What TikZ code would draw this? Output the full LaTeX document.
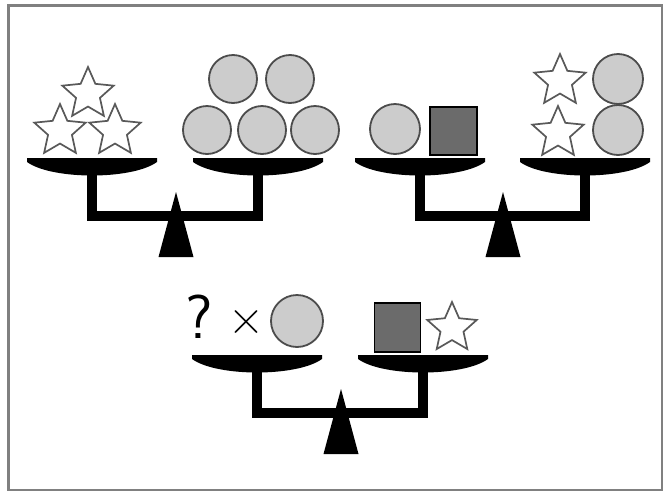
\documentclass[tikz,border=0pt]{standalone}
\usetikzlibrary{shapes.geometric}
\newcommand{\mypan}[2]{%
  \fill[black] (#1-65,#2) -- (#1+65,#2) -- (#1+65,#2+4)
    .. controls (#1+40,#2+22) and (#1-40,#2+22) .. (#1-65,#2+4) -- cycle;}
\newcommand{\mybalance}[4]{% #1 left x, #2 right x, #3 pan top y, #4 fulcrum x
  \draw[line width=10.5pt, line join=miter] (#1,#3+10) -- (#1,#3+58) -- (#2,#3+58) -- (#2,#3+10);
  \mypan{#1}{#3}\mypan{#2}{#3}
  \fill[black] (#4,#3+34) -- (#4+17.5,#3+99) -- (#4-17.5,#3+99) -- cycle;}
\begin{document}
\begin{tikzpicture}[x=1pt,y=-1pt,
  ball/.style={circle, draw=black!70, fill=black!20, line width=1.8pt, minimum size=48pt, inner sep=0pt},
  starry/.style={star, star points=5, star point ratio=2.15, draw=black!65, fill=white, line width=1.7pt, minimum size=54pt, inner sep=0pt},
  block/.style={rectangle, draw=black, fill=black!58, line width=1.4pt, minimum width=47pt, minimum height=48pt, inner sep=0pt}]
\useasboundingbox (0,0) rectangle (665,496);
\fill[white] (0,0) rectangle (665,496);
\draw[black!50, line width=2.5pt] (8.5,5.5) rectangle (662,490);

% scale 1
\mybalance{92}{258}{158}{176}
\node[starry] (s1) at (88,94) {};
\node[starry] (s2) at (60,131) {};
\node[starry] (s3) at (115,131) {};
\node[ball] (c1) at (233,79) {};
\node[ball] (c2) at (290,79) {};
\node[ball] (c3) at (207,130) {};
\node[ball] (c4) at (262,130) {};
\node[ball] (c5) at (315,130) {};

% scale 2
\mybalance{420}{585}{158}{503}
\node[ball, minimum size=50pt] (c6) at (395,129) {};
\node[block] (q1) at (453.5,131) {};
\node[starry] (s4) at (560,81) {};
\node[starry] (s5) at (558,133) {};
\node[ball, minimum size=50pt] (c7) at (618,79) {};
\node[ball, minimum size=50pt] (c8) at (618,130) {};

% scale 3
\mybalance{257}{423}{355}{341}
\node[font=\sffamily\fontsize{62}{62}\selectfont, inner sep=0pt] (qm) at (199,317) {?};
\node[font=\fontsize{50}{50}\selectfont, inner sep=0pt] (tm) at (246,322) {×};
\node[ball, minimum size=52pt] (c9) at (297,321) {};
\node[block, minimum width=46pt, minimum height=49pt] (q2) at (397.5,327.5) {};
\node[starry, minimum size=52pt] (s6) at (452,328) {};
\end{tikzpicture}
\end{document}
